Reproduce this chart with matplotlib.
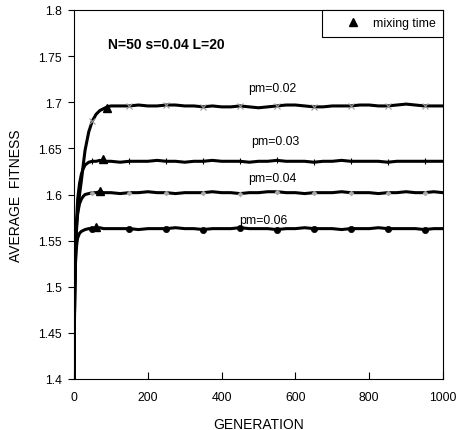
import numpy as np
import matplotlib.pyplot as plt

plt.rcParams['font.family'] = ['Liberation Sans', 'DejaVu Sans']

# generations (shared grid)
gen = np.array([0, 1, 2, 4, 6, 8, 10, 15, 20, 25, 30, 40, 50, 60, 70, 80, 90,
                100, 125, 150, 175, 200, 225, 250, 275, 300, 325, 350, 375,
                400, 425, 450, 475, 500, 525, 550, 575, 600, 625, 650, 675,
                700, 725, 750, 775, 800, 825, 850, 875, 900, 925, 950, 975,
                1000])

fit_02 = [1.400, 1.450, 1.490, 1.530, 1.555, 1.570, 1.580, 1.600, 1.615,
          1.632, 1.648, 1.668, 1.680, 1.687, 1.691, 1.693, 1.695, 1.696,
          1.696, 1.696, 1.697, 1.696, 1.696, 1.697, 1.697, 1.696, 1.696,
          1.695, 1.696, 1.695, 1.695, 1.696, 1.695, 1.694, 1.695, 1.696,
          1.697, 1.697, 1.696, 1.695, 1.695, 1.696, 1.696, 1.696, 1.697,
          1.697, 1.696, 1.696, 1.697, 1.698, 1.697, 1.696, 1.696, 1.696]
fit_03 = [1.400, 1.460, 1.500, 1.540, 1.565, 1.580, 1.595, 1.612, 1.622,
          1.628, 1.632, 1.635, 1.636, 1.636, 1.637, 1.636, 1.636, 1.636,
          1.635, 1.636, 1.636, 1.636, 1.637, 1.636, 1.636, 1.635, 1.636,
          1.636, 1.637, 1.636, 1.636, 1.636, 1.635, 1.636, 1.636, 1.637,
          1.636, 1.636, 1.636, 1.635, 1.636, 1.636, 1.637, 1.636, 1.636,
          1.636, 1.636, 1.635, 1.636, 1.636, 1.636, 1.636, 1.636, 1.636]
fit_04 = [1.400, 1.460, 1.500, 1.535, 1.560, 1.572, 1.580, 1.590, 1.595,
          1.598, 1.600, 1.601, 1.602, 1.602, 1.603, 1.602, 1.602, 1.602,
          1.601, 1.602, 1.602, 1.603, 1.602, 1.602, 1.601, 1.602, 1.602,
          1.602, 1.603, 1.602, 1.602, 1.601, 1.602, 1.602, 1.603, 1.603,
          1.602, 1.602, 1.601, 1.602, 1.602, 1.602, 1.603, 1.602, 1.602,
          1.602, 1.601, 1.602, 1.602, 1.603, 1.602, 1.602, 1.603, 1.602]
fit_06 = [1.400, 1.460, 1.495, 1.525, 1.540, 1.548, 1.553, 1.558, 1.560,
          1.561, 1.562, 1.563, 1.563, 1.563, 1.564, 1.563, 1.563, 1.563,
          1.563, 1.563, 1.562, 1.563, 1.563, 1.563, 1.564, 1.563, 1.563,
          1.562, 1.563, 1.563, 1.563, 1.564, 1.563, 1.563, 1.563, 1.562,
          1.563, 1.563, 1.564, 1.563, 1.563, 1.563, 1.562, 1.563, 1.563,
          1.563, 1.564, 1.563, 1.563, 1.563, 1.563, 1.562, 1.563, 1.563]

# mixing time (generation, fitness) per curve
mix_gen = [89, 78, 70, 60]
mix_fit = [1.694, 1.638, 1.604, 1.565]

marker_gen = [50, 150, 250, 350, 450, 550, 650, 750, 850, 950]

labels = ['pm=0.02', 'pm=0.03', 'pm=0.04', 'pm=0.06']
label_pos = [(537, 1.7155), (545, 1.658), (537, 1.618), (512, 1.572)]

fig = plt.figure(figsize=(4.57, 4.31), dpi=100)
ax = fig.add_axes([74 / 457, 1 - 380 / 431, 369 / 457, 369 / 431])

idx = list(np.nonzero(np.isin(gen, marker_gen))[0])
styles = [dict(marker='x', mfc='#999999', mec='#999999', ms=4, mew=0.8),
          dict(marker='+', mfc='k', mec='k', ms=5, mew=0.8),
          dict(marker='D', mfc='#aaaaaa', mec='#aaaaaa', ms=2.5, mew=0.5),
          dict(marker='o', mfc='k', mec='k', ms=4.5, mew=0.5)]
for fit, st in zip([fit_02, fit_03, fit_04, fit_06], styles):
    ax.plot(gen, fit, color='k', lw=2.2, markevery=idx, zorder=2, **st)

ax.plot(mix_gen, mix_fit, ls='none', marker='^', color='k', ms=6,
        label='mixing time', zorder=3)

for lab, (xx, yy) in zip(labels, label_pos):
    ax.text(xx, yy, lab, fontsize=8.8, ha='center', va='center')
ax.text(92, 1.763, 'N=50 s=0.04 L=20', fontsize=10, fontweight='bold',
        va='center')

ax.set_xlim(0, 1000)
ax.set_ylim(1.4, 1.8)
ax.set_xticks([0, 200, 400, 600, 800, 1000])
ax.set_yticks([1.4, 1.45, 1.5, 1.55, 1.6, 1.65, 1.7, 1.75, 1.8])
ax.set_yticklabels(['1.4', '1.45', '1.5', '1.55', '1.6', '1.65', '1.7',
                    '1.75', '1.8'])
ax.tick_params(axis='x', direction='in', length=5, labelsize=8.8, pad=9)
ax.tick_params(axis='y', direction='out', length=4, labelsize=8.8, pad=5)
for sp in ax.spines.values():
    sp.set_linewidth(0.8)

ax.set_xlabel('GENERATION', fontsize=10, labelpad=10)
ax.set_ylabel('AVERAGE  FITNESS', fontsize=10, labelpad=11)

leg = ax.legend(loc='upper right', fontsize=8.8, fancybox=False,
                framealpha=1, edgecolor='k', borderaxespad=0,
                handlelength=3.9, handletextpad=-0.3, borderpad=0.6)
leg.get_frame().set_linewidth(0.8)

fig.savefig('out.png', dpi=100)
